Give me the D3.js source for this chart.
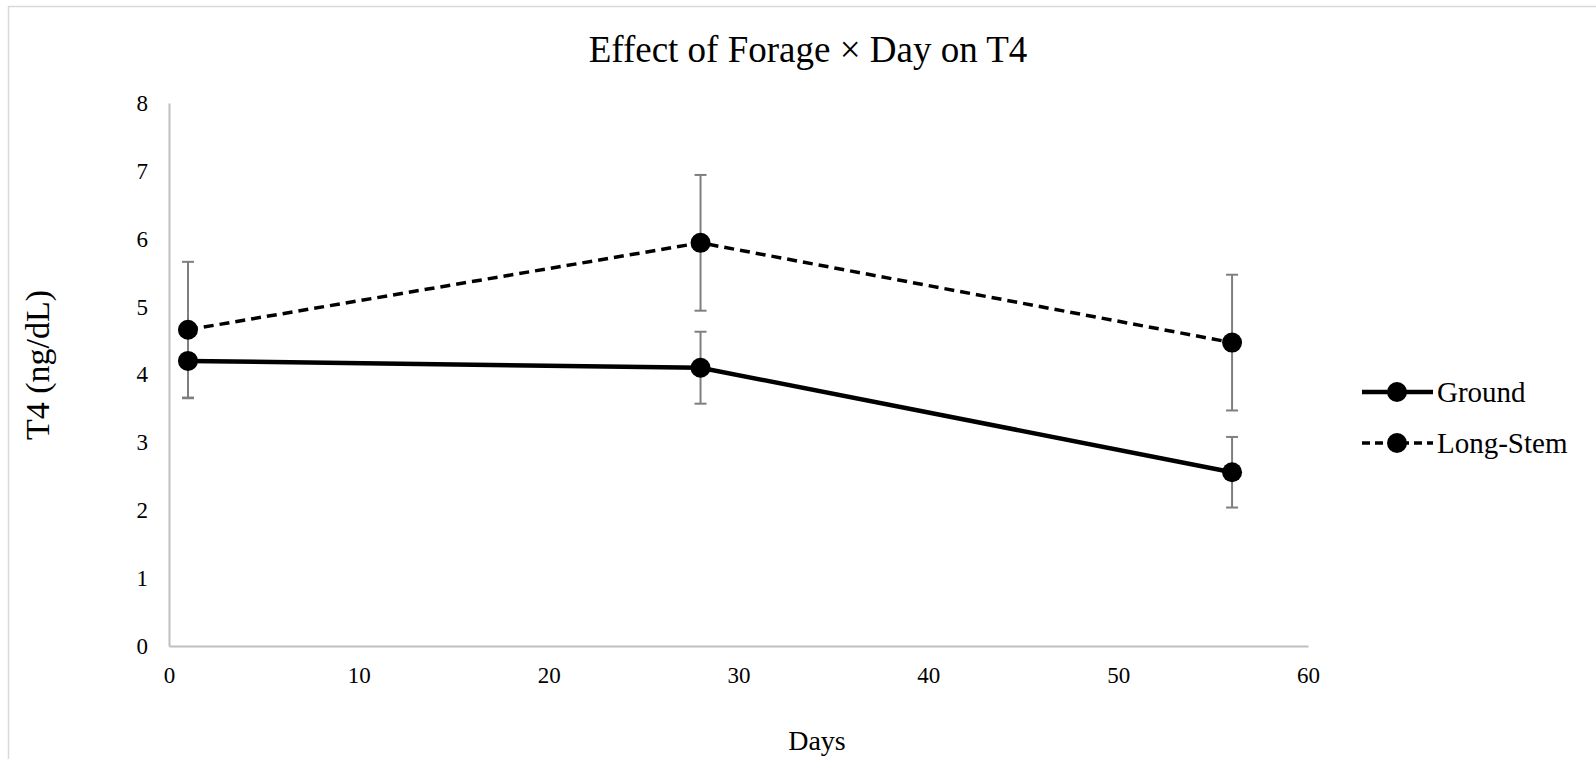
<!DOCTYPE html>
<html>
<head>
<meta charset="utf-8">
<script src="https://cdn.jsdelivr.net/npm/d3@7"></script>
<style>
  body { margin: 0; background: #fff; }
  svg text { font-family: "Liberation Serif", "Times New Roman", serif; fill: #000; }
</style>
</head>
<body>
<svg id="chart" width="1596" height="759"></svg>
<script>
// values
const days = [1, 28, 56];
const groundVals = [4.2, 4.1, 2.56];
const groundErr = [0.55, 0.53, 0.52];
const longStemVals = [4.66, 5.94, 4.47];
const longStemErr = [1.0, 1.0, 1.0];
const seriesNames = ["Ground", "Long-Stem"];
const xTicks = [0, 10, 20, 30, 40, 50, 60];
const yTicks = [0, 1, 2, 3, 4, 5, 6, 7, 8];

const serif = '"Liberation Serif", "Times New Roman", serif';
const svg = d3.select("svg#chart");

function translate(x, y) {
  return "translate(" + x + "," + y + ")";
}

// chart border
svg.append("rect")
  .attr("x", 8.5).attr("y", 6.5)
  .attr("width", 1620).attr("height", 800)
  .attr("fill", "none")
  .attr("stroke", "#d9d9d9")
  .attr("stroke-width", 1.5);

const x = d3.scaleLinear().domain([0, 60]).range([169, 1308]);
const y = d3.scaleLinear().domain([0, 8]).range([646, 103]);

// x axis
const xAxis = svg.append("g")
  .attr("transform", translate(0, y(0)))
  .call(d3.axisBottom(x).tickValues(xTicks).tickSize(0).tickSizeOuter(0))
  .attr("font-family", serif)
  .attr("font-size", 23);
xAxis.select(".domain").attr("stroke", "#bfbfbf").attr("stroke-width", 2);
xAxis.selectAll("text")
  .attr("y", 37).attr("dy", 0)
  .style("font-family", serif);

// y axis
const yAxis = svg.append("g")
  .attr("transform", translate(x(0), 0))
  .call(d3.axisLeft(y).tickValues(yTicks).tickSize(0).tickSizeOuter(0).tickPadding(21))
  .attr("font-family", serif)
  .attr("font-size", 23);
yAxis.select(".domain").attr("stroke", "#bfbfbf").attr("stroke-width", 2);
yAxis.selectAll("text").style("font-family", serif);

// titles
svg.append("text")
  .attr("x", 808).attr("y", 62)
  .attr("text-anchor", "middle")
  .style("font-size", "37px")
  .text("Effect of Forage \u00d7 Day on T4");

svg.append("text")
  .attr("transform", translate(49, 365) + " rotate(-90)")
  .attr("text-anchor", "middle")
  .style("font-size", "34px")
  .text("T4 (ng/dL)");

svg.append("text")
  .attr("x", 817).attr("y", 750)
  .attr("text-anchor", "middle")
  .style("font-size", "28px")
  .text("Days");

// build series
const series = [
  { name: seriesNames[0], dash: null, pts: days.map((d, i) => ({ day: d, v: groundVals[i], e: groundErr[i] })) },
  { name: seriesNames[1], dash: "10,6", pts: days.map((d, i) => ({ day: d, v: longStemVals[i], e: longStemErr[i] })) }
];

// error bars
series.forEach(function(s) {
  const g = svg.append("g").attr("stroke", "#7f7f7f").attr("stroke-width", 2);
  g.selectAll("line.bar")
    .data(s.pts)
    .join("line")
    .attr("x1", d => x(d.day)).attr("x2", d => x(d.day))
    .attr("y1", d => y(d.v + d.e)).attr("y2", d => y(d.v - d.e));
  [1, -1].forEach(function(sign) {
    g.selectAll(null)
      .data(s.pts)
      .join("line")
      .attr("x1", d => x(d.day) - 6).attr("x2", d => x(d.day) + 6)
      .attr("y1", d => y(d.v + sign * d.e)).attr("y2", d => y(d.v + sign * d.e));
  });
});

const line = d3.line().x(d => x(d.day)).y(d => y(d.v));

series.forEach(function(s) {
  svg.append("path")
    .datum(s.pts)
    .attr("d", line)
    .attr("fill", "none")
    .attr("stroke", "#000")
    .attr("stroke-width", s.dash ? 3.5 : 4.5)
    .attr("stroke-dasharray", s.dash);
});

series.forEach(function(s) {
  svg.append("g")
    .selectAll("circle")
    .data(s.pts)
    .join("circle")
    .attr("cx", d => x(d.day))
    .attr("cy", d => y(d.v))
    .attr("r", 10)
    .attr("fill", "#000");
});

// legend
const legend = svg.append("g").attr("transform", translate(1362, 392));
series.forEach(function(s, i) {
  const row = legend.append("g").attr("transform", translate(0, i * 51));
  row.append("line")
    .attr("x1", 0).attr("x2", 71)
    .attr("stroke", "#000")
    .attr("stroke-width", s.dash ? 3.5 : 4.5)
    .attr("stroke-dasharray", s.dash ? "8,5" : null);
  row.append("circle").attr("cx", 35).attr("r", 10).attr("fill", "#000");
  row.append("text")
    .attr("x", 75).attr("dy", "0.34em")
    .style("font-size", "29px")
    .text(s.name);
});
</script>
</body>
</html>
